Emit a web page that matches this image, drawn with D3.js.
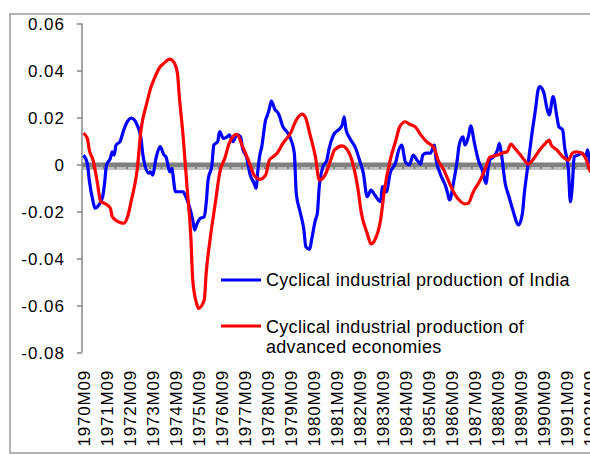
<!DOCTYPE html>
<html><head><meta charset="utf-8">
<script src="https://cdn.jsdelivr.net/npm/d3@7"></script>
<style>html,body{margin:0;padding:0;background:#fff;}svg{display:block;}</style>
</head><body>
<svg id="c" width="590" height="455"></svg>
<script>
// months counted from 1970M09 (0 = 1970M09)
const xTickLabels = ["1970M09","1971M09","1972M09","1973M09","1974M09","1975M09","1976M09","1977M09","1978M09","1979M09","1980M09","1981M09","1982M09","1983M09","1984M09","1985M09","1986M09","1987M09","1988M09","1989M09","1990M09","1991M09","1992M09"];
const yTicks = [0.06,0.04,0.02,0,-0.02,-0.04,-0.06,-0.08];
const yTickLabels = ["0.06","0.04","0.02","0","-0.02","-0.04","-0.06","-0.08"];
const seriesNames = ["Cyclical industrial production of India","Cyclical industrial production of advanced economies"];

const indiaMonths = [0,2,3,5,6,8,10,11,12,14,15,16,17,19,21,22,25,28,30,31,34,35,36,38,40,42,43,45,46,48,50,52,53,55,57,58,59,61,63,64,65,67,68,70,71,73,75,76,78,80,82,83,85,87,89,90,91,92,93,95,96,97,98,100,101,102,104,106,108,110,111,113,115,116,118,119,121,122,123,125,127,128,130,131,133,135,136,137,139,142,144,146,148,150,152,155,156,158,160,163,164,166,168,170,172,174,176,177,179,181,183,184,186,189,190,191,193,195,196,198,199,201,202,204,206,208,210,211,212,214,216,217,218,220,222,224,227,229,230,232,234,236,237,238,240,242,243,245,247,248,250,251,253,254,255,256,258,260,262,263,264,266];
const indiaValues = [0.004,0.0005,-0.0066,-0.0158,-0.0186,-0.0172,-0.0137,-0.008,-0.0002,0.0026,0.0054,0.004,0.0083,0.0097,0.0147,0.0168,0.0197,0.0168,0.0111,0.004,-0.0037,-0.0031,-0.0045,0.0033,0.0076,0.004,0.0033,-0.0031,-0.0016,-0.0116,-0.0116,-0.0116,-0.013,-0.0172,-0.0236,-0.0279,-0.0257,-0.0229,-0.0222,-0.0165,-0.0066,-0.0002,0.0083,0.0097,0.014,0.0111,0.0118,0.0126,0.0097,0.0126,0.0118,0.0069,0.0033,-0.0045,-0.008,-0.0101,-0.0023,0.004,0.0076,0.0189,0.0211,0.0239,0.027,0.0232,0.0225,0.0211,0.0161,0.014,0.0111,0.0048,-0.0123,-0.0201,-0.0279,-0.035,-0.0361,-0.0321,-0.0236,-0.0208,-0.0094,-0.0009,0.0019,0.0062,0.0118,0.0133,0.0147,0.0168,0.0203,0.0147,0.0111,0.0069,0.0019,-0.0037,-0.0137,-0.0109,-0.013,-0.0158,-0.0094,-0.0116,-0.0037,0.0012,0.0048,0.0083,0.001,-0.0002,0.004,0.0019,0.0002,0.004,0.0048,0.0048,0.0083,0.0019,-0.0037,-0.0094,-0.0123,-0.0151,-0.008,0.0019,0.0083,0.0118,0.0083,0.0126,0.0164,0.009,0.0019,-0.0023,-0.008,-0.0023,0.0019,0.0033,0.0062,0.009,0.0048,-0.008,-0.0137,-0.0194,-0.0257,-0.0208,-0.0123,0.0005,0.0133,0.0246,0.031,0.0331,0.031,0.0232,0.0211,0.0289,0.0203,0.0161,0.0147,0.0076,-0.0023,-0.0158,-0.0094,0.0033,0.004,0.0048,0.0033,0.0062,0.0019,0.0];

const advMonths = [0,2,3,5,7,9,11,14,15,18,21,23,25,28,30,33,35,37,40,42,45,47,49,50,52,54,56,57,59,60,63,64,66,69,71,74,76,80,83,86,89,92,95,97,99,101,104,108,111,114,116,118,121,123,126,129,131,135,137,140,143,145,148,150,152,155,157,160,163,165,168,170,173,176,179,183,185,188,191,194,196,199,201,203,207,210,212,216,219,221,223,225,228,230,232,235,238,241,243,244,247,250,253,255,257,260,263,264,266];
const advValues = [0.0133,0.0111,0.0062,0.0019,-0.0066,-0.0158,-0.0165,-0.0186,-0.0222,-0.0243,-0.025,-0.0222,-0.0151,-0.0023,0.0147,0.026,0.0324,0.0367,0.0416,0.0431,0.0448,0.0437,0.0388,0.0289,0.0118,-0.0094,-0.0307,-0.0491,-0.0591,-0.0612,-0.0577,-0.0463,-0.0321,-0.0151,-0.0037,0.0033,0.009,0.0128,0.0076,0.0019,-0.0045,-0.0063,-0.0045,0.0019,0.0033,0.0048,0.009,0.0133,0.0189,0.0214,0.0197,0.0133,0.0033,-0.0066,-0.0045,0.0019,0.0062,0.0079,0.0069,0.0019,-0.0094,-0.0208,-0.0293,-0.0338,-0.0321,-0.0236,-0.0109,0.0019,0.0104,0.0161,0.0182,0.0172,0.0161,0.0126,0.0097,0.0069,0.0019,-0.0023,-0.008,-0.013,-0.0151,-0.0168,-0.0163,-0.0123,-0.0066,-0.0009,0.0031,0.004,0.005,0.0054,0.0087,0.0069,0.004,0.0019,0.0002,0.0026,0.0062,0.009,0.0104,0.0083,0.0062,0.0033,0.0019,0.0048,0.0054,0.0048,0.0005,-0.0023,-0.004];

const svg = d3.select("#c");
const FONT = "Liberation Sans, Arial, sans-serif";

const x = d3.scaleLinear().domain([0, 264]).range([83.5, 589.5]);
const y = d3.scaleLinear().domain([-0.08, 0.06]).range([352.5, 23.5]);

// outer chart border
svg.append("rect").attr("x",10).attr("y",14).attr("width",620).attr("height",439)
  .attr("fill","none").attr("stroke","#8a8a8a").attr("stroke-width",1.3);

// zero axis band
const y0 = y(0);
svg.append("rect").attr("x",82).attr("y",y0-2).attr("width",520).attr("height",7).attr("fill","#808080");
svg.append("line").attr("x1",82).attr("x2",600).attr("y1",y0+3.5).attr("y2",y0+3.5)
  .attr("stroke","#ffffff").attr("stroke-width",1).attr("stroke-dasharray","9.5,2");

// y axis
const yAxis = svg.append("g").attr("transform","translate(82,0)")
  .call(d3.axisLeft(y).tickValues(yTicks).tickSize(5).tickFormat((d,i)=>yTickLabels[i]));
yAxis.select(".domain").attr("stroke","#868686").attr("stroke-width",1.5).attr("d","M0,"+y(0.06)+"V"+y(-0.08));
yAxis.selectAll(".tick line").attr("stroke","#868686").attr("stroke-width",1.5);
yAxis.selectAll(".tick text").attr("x",-17).attr("dy","0.36em")
  .attr("font-family",FONT).attr("font-size",17).attr("letter-spacing","1px").attr("fill","#000");

// x labels
const xl = svg.append("g");
xl.selectAll("text").data(xTickLabels).join("text")
  .attr("transform",(d,i)=>"translate("+(x(i*12)+6)+",370) rotate(-90)")
  .attr("text-anchor","end")
  .attr("font-family",FONT).attr("font-size",17).attr("letter-spacing","0.8px").attr("fill","#000")
  .text(d=>d);

// lines
svg.append("clipPath").attr("id","pc").append("rect").attr("x",82).attr("y",0).attr("width",600).attr("height",455);
const line = d3.line().x(d=>x(d[0])).y(d=>y(d[1])).curve(d3.curveMonotoneX);
const g = svg.append("g").attr("clip-path","url(#pc)");
g.append("path").datum(indiaMonths.map((m,i)=>[m,indiaValues[i]]))
  .attr("d",line).attr("fill","none").attr("stroke","#0000ff").attr("stroke-width",3.2).attr("stroke-linejoin","round");
g.append("path").datum(advMonths.map((m,i)=>[m,advValues[i]]))
  .attr("d",line).attr("fill","none").attr("stroke","#ff0000").attr("stroke-width",3.2).attr("stroke-linejoin","round");

// legend
const lg = svg.append("g");
lg.append("line").attr("x1",221).attr("x2",261).attr("y1",280).attr("y2",280).attr("stroke","#0000ff").attr("stroke-width",3.2);
lg.append("text").attr("x",266).attr("y",286).attr("font-family",FONT).attr("font-size",18).attr("letter-spacing","0.3px").text(seriesNames[0]);
lg.append("line").attr("x1",221).attr("x2",261).attr("y1",326).attr("y2",326).attr("stroke","#ff0000").attr("stroke-width",3.2);
lg.append("text").attr("x",266).attr("y",332.5).attr("font-family",FONT).attr("font-size",18).attr("letter-spacing","0.3px").text("Cyclical industrial production of");
lg.append("text").attr("x",266).attr("y",352.5).attr("font-family",FONT).attr("font-size",18).attr("letter-spacing","0.3px").text("advanced economies");
</script>
</body></html>
